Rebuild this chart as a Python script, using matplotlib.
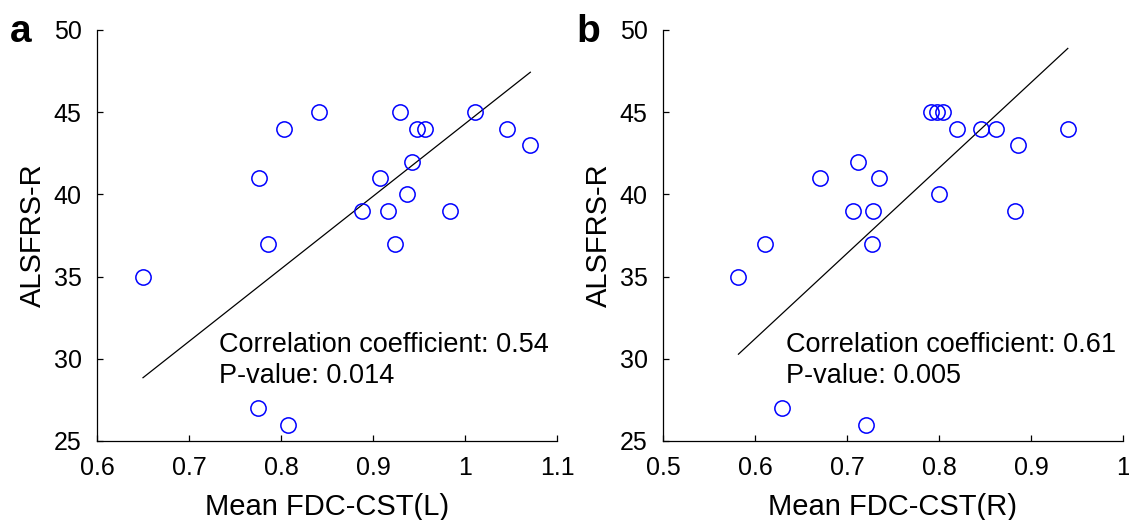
import matplotlib.pyplot as plt
import numpy as np

plt.rcParams['font.family'] = ['Liberation Sans', 'DejaVu Sans']

# panel a: left CST
fdc_left = [0.650, 0.776, 0.803, 0.841, 0.786, 0.775, 0.808, 0.888, 0.908, 0.916,
            0.924, 0.929, 0.937, 0.942, 0.948, 0.957, 0.984, 1.011, 1.046, 1.071]
alsfrs_left = [35, 41, 44, 45, 37, 27, 26, 39, 41, 39,
               37, 45, 40, 42, 44, 44, 39, 45, 44, 43]
# fitted line as drawn in the figure (end points)
fit_left_x = [0.650, 1.071]
fit_left_y = [28.85, 47.43]

# panel b: right CST
fdc_right = [0.582, 0.611, 0.629, 0.671, 0.707, 0.712, 0.721, 0.727, 0.728, 0.735,
             0.791, 0.798, 0.804, 0.800, 0.820, 0.846, 0.862, 0.886, 0.883, 0.940]
alsfrs_right = [35, 37, 27, 41, 39, 42, 26, 37, 39, 41,
                45, 45, 45, 40, 44, 44, 44, 43, 39, 44]
fit_right_x = [0.582, 0.940]
fit_right_y = [30.28, 48.88]

panels = [
    dict(x=fdc_left, y=alsfrs_left, fx=fit_left_x, fy=fit_left_y,
         xlim=(0.6, 1.1), xticks=[0.6, 0.7, 0.8, 0.9, 1.0, 1.1],
         xticklabels=['0.6', '0.7', '0.8', '0.9', '1', '1.1'],
         xlabel='Mean FDC-CST(L)', letter='a', r='0.54', p='0.014', tx=0.7326),
    dict(x=fdc_right, y=alsfrs_right, fx=fit_right_x, fy=fit_right_y,
         xlim=(0.5, 1.0), xticks=[0.5, 0.6, 0.7, 0.8, 0.9, 1.0],
         xticklabels=['0.5', '0.6', '0.7', '0.8', '0.9', '1'],
         xlabel='Mean FDC-CST(R)', letter='b', r='0.61', p='0.005', tx=0.6334),
]

fig = plt.figure(figsize=(11.29, 5.2), dpi=100)
W, H = 1129, 520
axes_px = [(97, 30, 460, 411), (663, 30, 460, 411)]

for (l, t, w, h), pn in zip(axes_px, panels):
    ax = fig.add_axes([l / W, 1 - (t + h) / H, w / W, h / H])
    ax.plot(pn['x'], pn['y'], 'o', mfc='none', mec=(0, 0, 1), ms=11, mew=1.1, zorder=3)
    ax.plot(pn['fx'], pn['fy'], color='black', lw=0.9)

    ax.set_xlim(pn['xlim'])
    ax.set_ylim(25, 50)
    ax.set_xticks(pn['xticks'])
    ax.set_xticklabels(pn['xticklabels'])
    ax.set_yticks([25, 30, 35, 40, 45, 50])
    ax.spines['top'].set_visible(False)
    ax.spines['right'].set_visible(False)
    for s in ('left', 'bottom'):
        ax.spines[s].set_linewidth(0.9)
    ax.tick_params(direction='in', length=4, width=0.9, labelsize=18, pad=11)
    ax.set_xlabel(pn['xlabel'], fontsize=21, labelpad=9)
    ax.set_ylabel('ALSFRS-R', fontsize=21, labelpad=5)

    ax.text(pn['tx'], 30.44, 'Correlation coefficient: ' + pn['r'], fontsize=19.5, va='baseline')
    ax.text(pn['tx'], 28.55, 'P-value: ' + pn['p'], fontsize=19.5, va='baseline')

    fig.text((l - 87) / W, 1 - 42 / H, pn['letter'], fontsize=28, fontweight='bold', va='baseline')

fig.savefig('out.png', dpi=100)
